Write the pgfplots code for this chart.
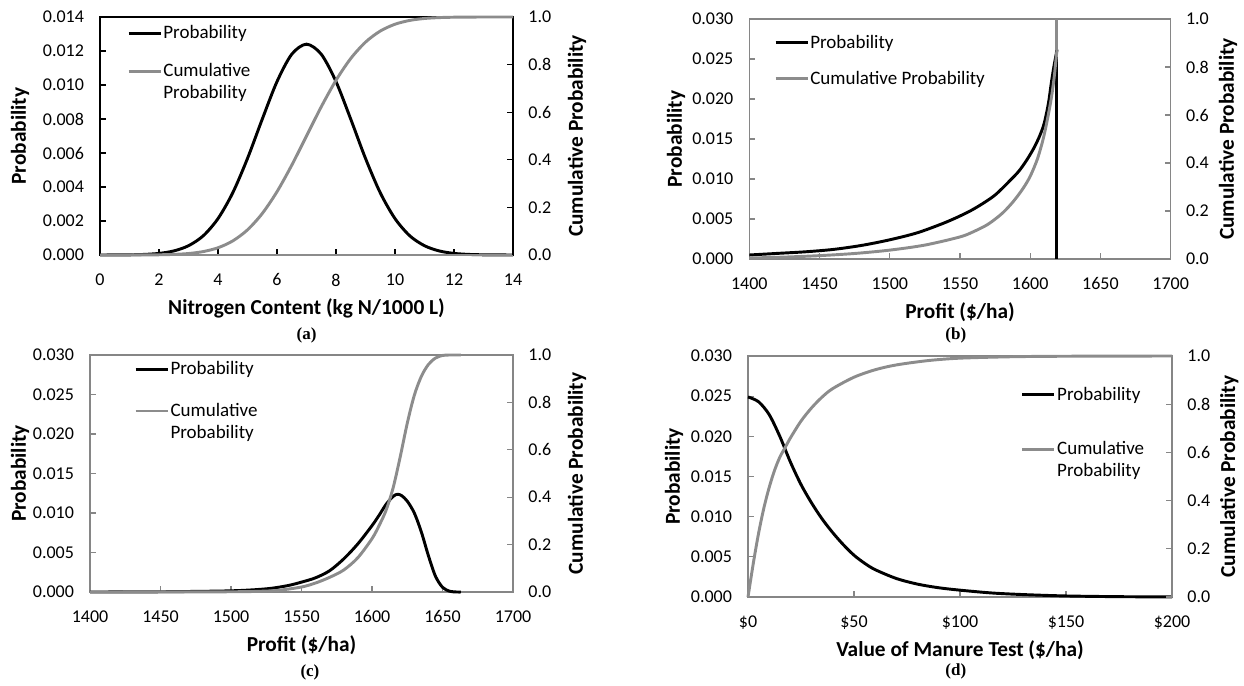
\documentclass[border=0pt]{standalone}
\usepackage{fontspec}
\setmainfont{Carlito}
\newfontfamily\timesfont{Liberation Serif}
\usepackage{pgfplots}
\pgfplotsset{compat=1.18}

\definecolor{cgray}{RGB}{140,140,140}
\definecolor{fgray}{RGB}{134,134,134}

\newcommand{\tickfont}{\fontsize{13.5}{15}\selectfont}
\newcommand{\legfont}{\fontsize{14.25}{16.5}\selectfont}
\newcommand{\labfont}{\bfseries\fontsize{16}{19}\selectfont}
\newcommand{\subfont}{\timesfont\bfseries\fontsize{12.75}{14}\selectfont}

\pgfplotsset{
  panel/.style={scale only axis, anchor=south west, clip=false,
    tick align=inside, major tick length=4.5pt,
    /pgf/number format/assume math mode=true,
    ticklabel style={font=\tickfont},
    scaled ticks=false},
  leftax/.style={panel, xtick pos=bottom, ytick pos=left,
    xticklabel style={yshift=-10.5pt, /pgf/number format/.cd, fixed, precision=0, 1000 sep={}},
    yticklabel style={xshift=-8.5pt, /pgf/number format/.cd, fixed, fixed zerofill, precision=3},
    ytick={0,0.005,0.01,0.015,0.02,0.025,0.03}, ymin=0, ymax=0.03,
    ylabel={Probability}},
  rightax/.style={panel, axis y line*=right,
    ymin=0, ymax=1, ytick={0,0.2,0.4,0.6,0.8,1},
    yticklabel style={xshift=8pt, /pgf/number format/.cd, fixed, fixed zerofill, precision=1},
    ylabel={Cumulative Probability},
    legend style={draw=none, fill=none, font=\legfont, anchor=north west,
      inner sep=0pt, cells={align=left}, nodes={inner sep=1pt}},
    legend cell align=left},
  rlab/.style={every axis y label/.style={at={([xshift=#1]axis description cs:1,0.5)}, rotate=90, anchor=center, font=\labfont}},
  xlab/.style={every axis x label/.style={at={([yshift=-40pt]axis description cs:0.5,0)}, anchor=center, font=\labfont}},
  ylab/.style={every axis y label/.style={at={([xshift=-#1]axis description cs:0,0.5)}, rotate=90, anchor=center, font=\labfont}},
  pline/.style={black, line width=2.2pt},
  cline/.style={cgray, line width=2.2pt},
  legone/.style={legend image code/.code={\draw[##1] (0pt,0pt) -- (24pt,0pt);}},
  legtwo/.style={legend image code/.code={\draw[##1] (0pt,8pt) -- (24pt,8pt); \path (0pt,-8pt);}},
}

\begin{document}
\begin{tikzpicture}
\path[use as bounding box] (0,0) rectangle (933pt,513.75pt);

% (a) nitrogen content
\begin{axis}[leftax, at={(75pt,322.5pt)}, width=309.75pt, height=178.5pt,
  xmin=0, xmax=14, xtick={0,2,4,6,8,10,12,14},
  ymin=0, ymax=0.014, ytick={0,0.002,0.004,0.006,0.008,0.01,0.012,0.014},
  axis line style={black, line width=1.8pt}, tick style={black, line width=0.8pt},
  xlabel={Nitrogen Content (kg N/1000 L)}, xlab, ylab=60pt]
\addplot[pline, smooth] coordinates {
(0,0.0000009) (0.5,0.0000032) (1,0.000011) (1.5,0.000034) (2,0.000094)
(2.5,0.000238) (3,0.000545) (3.5,0.00113) (4,0.00214) (4.5,0.00366)
(5,0.00568) (5.5,0.00799) (6,0.0102) (6.5,0.01181) (7,0.0124)
(7.5,0.01181) (8,0.0102) (8.5,0.00799) (9,0.00568) (9.5,0.00366)
(10,0.00214) (10.5,0.00113) (11,0.000545) (11.5,0.000238) (12,0.000094)
(12.5,0.000034) (13,0.000011) (13.5,0.0000032) (14,0.0000009)};
\node[font=\subfont] at ([yshift=-60pt]axis description cs:0.5,0) {(a)};
\end{axis}
\begin{axis}[rightax, rlab=48pt, at={(75pt,322.5pt)}, width=309.75pt, height=178.5pt,
  xmin=0, xmax=14, axis x line*=bottom, xtick=\empty,
  x axis line style={cgray, line width=1.5pt},
  y axis line style={black, line width=1.8pt}, ytick style={black, line width=0.8pt},
  legend style={at={(0.065,0.970)}, row sep=15pt}]
\addlegendimage{pline, legone}
\addlegendentry{Probability}
\addplot[cline, smooth, legtwo] coordinates {
(0,0) (0.5,0.00001) (1,0.00009) (1.5,0.0003) (2,0.0009) (2.5,0.0025)
(3,0.0062) (3.5,0.0144) (4,0.0304) (4.5,0.0591) (5,0.1056) (5.5,0.1743)
(6,0.266) (6.5,0.3773) (7,0.5) (7.5,0.6227) (8,0.734) (8.5,0.8257)
(9,0.8944) (9.5,0.9409) (10,0.9696) (10.5,0.9856) (11,0.9938) (11.5,0.9975)
(12,0.9991) (12.5,0.9997) (13,0.9999) (13.5,1) (14,1)};
\addlegendentry{Cumulative\\Probability}
\end{axis}

% (b) profit, truncated
\begin{axis}[leftax, at={(562pt,319.5pt)}, width=316pt, height=180pt,
  xmin=1400, xmax=1700, xtick={1400,1450,1500,1550,1600,1650,1700},
  axis line style={fgray, line width=1.1pt}, tick style={fgray, line width=0.8pt},
  xlabel={Profit (\$/ha)}, xlab, ylab=55pt]
\addplot[pline, smooth] coordinates {
(1400,0.0005) (1420,0.0007) (1440,0.0009) (1460,0.0012) (1480,0.0017)
(1500,0.0024) (1520,0.0033) (1540,0.0046) (1555,0.0058) (1565,0.0068)
(1575,0.0080) (1585,0.0097) (1592,0.0110) (1598,0.0125) (1603,0.0140)
(1607,0.0155) (1610,0.0170) (1613,0.0195) (1615,0.0220) (1617,0.0242)
(1618.5,0.0256) (1619,0.0262)};
\addplot[pline] coordinates {(1619,0.0262) (1619,0)};
\node[font=\subfont] at ([yshift=-57pt]axis description cs:0.49,0) {(b)};
\end{axis}
\begin{axis}[rightax, rlab=43pt, at={(562pt,319.5pt)}, width=316pt, height=180pt,
  xmin=1400, xmax=1700, hide x axis,
  y axis line style={fgray, line width=1.1pt}, ytick style={fgray, line width=0.8pt},
  legend style={at={(0.058,0.94)}, row sep=13.5pt}]
\addlegendimage{pline, legone}
\addlegendentry{Probability}
\addplot[cline, smooth, legone] coordinates {
(1400,0.004) (1425,0.008) (1450,0.014) (1475,0.023) (1500,0.037)
(1525,0.058) (1550,0.092) (1560,0.115) (1570,0.145) (1580,0.19)
(1588,0.24) (1595,0.295) (1600,0.345) (1605,0.415) (1609,0.495)
(1612,0.575) (1615,0.67) (1617,0.755) (1618.5,0.84) (1619,0.87)};
\addlegendentry{Cumulative Probability}
\addplot[cline, forget plot] coordinates {(1619,0.87) (1619,1.0)};
\end{axis}

% (c) profit
\begin{axis}[leftax, at={(67.5pt,69.75pt)}, width=317.25pt, height=177.75pt,
  xmin=1400, xmax=1700, xtick={1400,1450,1500,1550,1600,1650,1700},
  axis line style={fgray, line width=1.1pt}, tick style={fgray, line width=0.8pt},
  xlabel={Profit (\$/ha)}, xlab, ylab=52.5pt]
\addplot[pline, smooth] coordinates {
(1400,0) (1450,0.00003) (1500,0.00015) (1525,0.0004) (1540,0.0008)
(1550,0.00125) (1560,0.0018) (1570,0.0027) (1580,0.0042) (1590,0.0061)
(1600,0.0084) (1605,0.0097) (1610,0.0111) (1615,0.0121) (1618,0.01237)
(1621,0.0122) (1625,0.0115) (1630,0.0100) (1635,0.0076) (1640,0.0046)
(1645,0.0020) (1650,0.0006) (1655,0.0001) (1660,0) (1663,0)};
\node[font=\subfont] at ([yshift=-60pt]axis description cs:0.52,0) {(c)};
\end{axis}
\begin{axis}[rightax, rlab=48pt, at={(67.5pt,69.75pt)}, width=317.25pt, height=177.75pt,
  xmin=1400, xmax=1700, hide x axis,
  y axis line style={fgray, line width=1.1pt}, ytick style={fgray, line width=0.8pt},
  legend style={at={(0.104,0.979)}, row sep=17.75pt}]
\addlegendimage{pline, legone}
\addlegendentry{Probability}
\addplot[cline, smooth, legtwo] coordinates {
(1400,0) (1500,0.001) (1525,0.004) (1535,0.008) (1550,0.021) (1560,0.038)
(1570,0.062) (1580,0.093) (1590,0.145) (1600,0.225) (1605,0.28) (1610,0.345)
(1615,0.44) (1620,0.57) (1625,0.712) (1630,0.83) (1635,0.91) (1640,0.96)
(1645,0.987) (1650,0.998) (1655,1.0) (1663,1.0)};
\addlegendentry{Cumulative\\Probability}
\end{axis}

% (d) value of manure test
\begin{axis}[leftax, at={(561pt,66pt)}, width=318pt, height=180.75pt,
  xmin=0, xmax=200, xtick={0,50,100,150,200},
  xticklabels={\$0,\$50,\$100,\$150,\$200},
  axis line style={fgray, line width=1.1pt}, tick style={fgray, line width=0.8pt},
  xlabel={Value of Manure Test (\$/ha)}, xlab, ylab=55.5pt]
\addplot[pline, smooth] coordinates {
(0,0.0249) (5,0.0243) (10,0.0227) (15,0.0200) (20,0.0168) (25,0.0140)
(30,0.0117) (35,0.0097) (40,0.0080) (45,0.0065) (50,0.0052) (55,0.0042)
(60,0.0034) (70,0.0023) (80,0.0016) (90,0.00115) (100,0.00085) (115,0.0005)
(130,0.0003) (150,0.00013) (175,0.00004) (200,0.00001)};
\node[font=\subfont] at ([yshift=-56pt]axis description cs:0.49,0) {(d)};
\end{axis}
\begin{axis}[rightax, rlab=43pt, at={(561pt,66pt)}, width=318pt, height=180.75pt,
  xmin=0, xmax=200, hide x axis,
  y axis line style={fgray, line width=1.1pt}, ytick style={fgray, line width=0.8pt},
  legend style={at={(0.643,0.8775)}, row sep=27.5pt}]
\addlegendimage{pline, legone}
\addlegendentry{Probability}
\addplot[cline, smooth, legtwo] coordinates {
(0,0) (2.5,0.14) (5,0.265) (7.5,0.37) (10,0.455) (12.5,0.525) (15,0.58)
(17.5,0.62) (20,0.66) (25,0.73) (30,0.785) (35,0.83) (40,0.865) (50,0.912)
(60,0.943) (70,0.963) (85,0.981) (100,0.991) (125,0.997) (150,0.999) (200,1.0)};
\addlegendentry{Cumulative\\Probability}
\end{axis}
\end{tikzpicture}
\end{document}
